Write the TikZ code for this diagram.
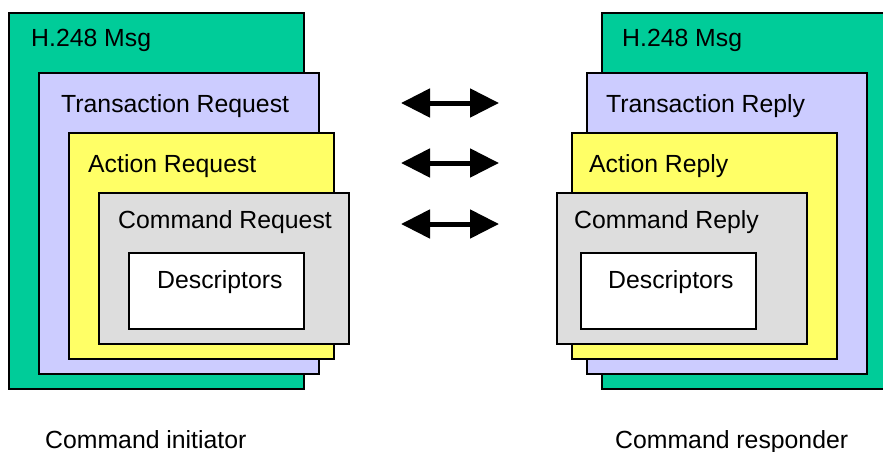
\documentclass[tikz,border=0pt]{standalone}
\usepackage{fontspec}
\setmainfont{Liberation Sans}
\usetikzlibrary{arrows.meta}
\definecolor{msggreen}{HTML}{00CC99}
\definecolor{translav}{HTML}{CCCCFF}
\definecolor{actyellow}{HTML}{FFFF66}
\definecolor{cmdgray}{HTML}{DDDDDD}
\begin{document}
\begin{tikzpicture}[x=1pt, y=-1pt, font=\fontsize{24.8}{30}\selectfont, line join=miter,
  every node/.style={anchor=base west, inner sep=0pt},
  box/.style={draw=black, line width=1.5pt},
  swap/.style={line width=5pt, {Triangle[length=29pt,width=28pt]}-{Triangle[length=29pt,width=28pt]}}]
\useasboundingbox (0,0) rectangle (883,452);
\clip (0,0) rectangle (883,452);
% initiator side
\draw[box, fill=msggreen] (9,13) rectangle (304,389);
\draw[box, fill=translav] (39,73) rectangle (319,374);
\draw[box, fill=actyellow] (69,133) rectangle (334,359);
\draw[box, fill=cmdgray] (99,193) rectangle (349,344);
\draw[box, fill=white] (129,253) rectangle (304,329);
\node (imsg) at (31,47) {H.248 Msg};
\node (itrans) at (61,112) {Transaction Request};
\node (iact) at (88,172) {Action Request};
\node (icmd) at (118,228) {Command Request};
\node (idesc) at (157,288) {Descriptors};
% responder side
\draw[box, fill=msggreen] (602,13) rectangle (895,389);
\draw[box, fill=translav] (587,73) rectangle (867,374);
\draw[box, fill=actyellow] (572,133) rectangle (837,359);
\draw[box, fill=cmdgray] (557,193) rectangle (807,344);
\draw[box, fill=white] (581,253) rectangle (756,329);
\node (rmsg) at (622,47) {H.248 Msg};
\node (rtrans) at (606,112) {Transaction Reply};
\node (ract) at (589,172) {Action Reply};
\node (rcmd) at (574,228) {Command Reply};
\node (rdesc) at (608,288) {Descriptors};
% arrows
\foreach \y in {103,163,224}
  \draw[swap] (401,\y) -- (499,\y);
% labels
\node (init) at (45,448) {Command initiator};
\node (resp) at (615,448) {Command responder};
\end{tikzpicture}
\end{document}
